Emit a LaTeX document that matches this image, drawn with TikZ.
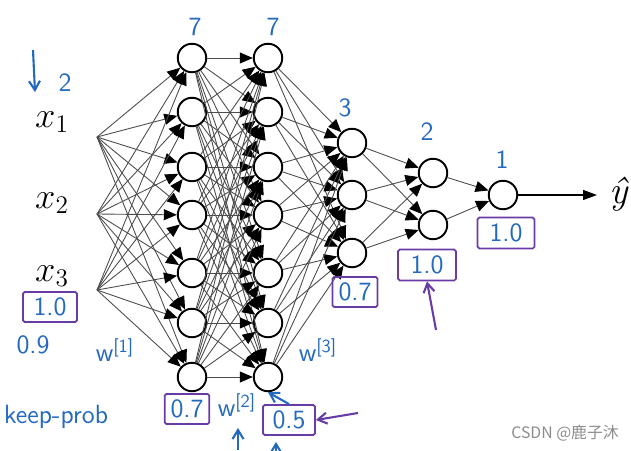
\documentclass[tikz,border=0pt]{standalone}
\usepackage{fontspec}
\newfontfamily\cjkfont{Noto Sans CJK SC}
\usetikzlibrary{arrows.meta}
\definecolor{inkblue}{RGB}{35,105,190}
\definecolor{inkpurple}{RGB}{105,60,165}
\tikzset{neuron/.style={circle, draw=black, line width=1.1pt, fill=white, minimum size=0.57cm, inner sep=0pt},
  link/.style={draw=black!70, line width=0.5pt, -{Triangle[length=0.26cm,width=0.22cm,color=black]}},
  inlabel/.style={font=\fontsize{22}{26}\selectfont},
  hand/.style={text=inkblue, font=\sffamily\fontsize{15}{17}\selectfont},
  keepbox/.style={draw=inkpurple, line width=1pt, text=inkblue, font=\sffamily\fontsize{15}{17}\selectfont, rounded corners=1pt},
  handarrow/.style={line width=1.2pt, -{Straight Barb[length=0.18cm,width=0.22cm]}}}

\begin{document}
\begin{tikzpicture}[x=0.02cm,y=-0.02cm]
  \useasboundingbox (0,0) rectangle (631,450);
  % inputs
  \node[inlabel] (x1) at (52,122) {$x_1$};
  \node[inlabel] (x2) at (52,203) {$x_2$};
  \node[inlabel] (x3) at (52,276) {$x_3$};
  \coordinate (i1) at (97,137);
  \coordinate (i2) at (97,214);
  \coordinate (i3) at (97,290);
  % layers
  \foreach \y [count=\n] in {58,112,167,215,273,323,377} {
    \node[neuron] (a\n) at (192,\y) {};
    \node[neuron] (b\n) at (268,\y) {};
  }
  \foreach \y [count=\n] in {143,195,253} \node[neuron] (c\n) at (352,\y) {};
  \node[neuron] (d1) at (433,173) {};
  \node[neuron] (d2) at (433,225) {};
  \node[neuron] (e1) at (503,195) {};
  % connections
  \foreach \i in {1,2,3} \foreach \j in {1,...,7} \draw[link] (i\i) -- (a\j);
  \foreach \i in {1,...,7} \foreach \j in {1,...,7} \draw[link] (a\i) -- (b\j);
  \foreach \i in {1,...,7} \foreach \j in {1,2,3} \draw[link] (b\i) -- (c\j);
  \foreach \i in {1,2,3} \foreach \j in {1,2} \draw[link] (c\i) -- (d\j);
  \draw[link] (d1) -- (e1);
  \draw[link] (d2) -- (e1);
  \coordinate (out) at (597,195);
  \draw[black, line width=0.7pt, -{Triangle[length=0.28cm,width=0.2cm]}] (e1) -- (out);
  \node[inlabel] (yhat) at (619,194) {\itshape ŷ};

  % handwritten notes
  \node[hand] (n1) at (195,27) {7};
  \node[hand] (n2) at (273,27) {7};
  \node[hand] (n3) at (345,108) {3};
  \node[hand] (n4) at (427,132) {2};
  \node[hand] (n5) at (502,160) {1};
  \node[hand] (two) at (65,83) {2};
  \coordinate (dtop) at (33,50);
  \coordinate (dbot) at (35,92);
  \draw[handarrow, inkblue] (dtop) -- (dbot);
  \node[hand] (p9) at (33,345) {0.9};
  \node[hand] (w1) at (115,350) {w\textsuperscript{[1]}};
  \node[hand] (w2) at (237,405) {w\textsuperscript{[2]}};
  \node[hand] (w3) at (318,350) {w\textsuperscript{[3]}};
  \node[hand] (kp) at (56,417) {keep-prob};

  \node[keepbox, minimum width=1.08cm, minimum height=0.58cm] (k0) at (50,307) {1.0};
  \node[keepbox, minimum width=0.8cm, minimum height=0.58cm] (k1) at (187,409) {0.7};
  \node[keepbox, minimum width=1.04cm, minimum height=0.56cm] (k2) at (289,420) {0.5};
  \node[keepbox, minimum width=0.9cm, minimum height=0.52cm] (k3) at (355,292) {0.7};
  \node[keepbox, minimum width=1.16cm, minimum height=0.62cm] (k4) at (427,265) {1.0};
  \node[keepbox, minimum width=1.14cm, minimum height=0.62cm] (k5) at (506,233) {1.0};

  \coordinate (w2a) at (238,450);
  \coordinate (w2b) at (238,428);
  \draw[handarrow, inkblue] (w2a) -- (w2b);
  \draw[handarrow, inkblue] (k2.north) -- (b7.south);
  \coordinate (ba) at (276,452);
  \coordinate (bb) at (276,442);
  \draw[handarrow, inkblue] (ba) -- (bb);
  \coordinate (la) at (358,413);
  \draw[handarrow, inkpurple] (la) -- (k2.east);
  \coordinate (ua) at (436,330);
  \draw[handarrow, inkpurple] (ua) -- (k4.south);

  \node[text=black!45, font=\cjkfont\fontsize{9}{11}\selectfont] (mark) at (565,433) {CSDN @鹿子沐};
\end{tikzpicture}
\end{document}
